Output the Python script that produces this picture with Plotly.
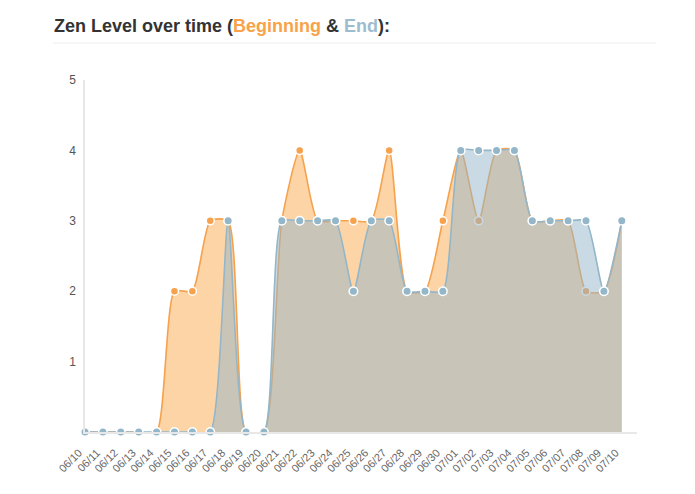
import plotly.graph_objects as go

days = ["06/10", "06/11", "06/12", "06/13", "06/14", "06/15", "06/16", "06/17",
        "06/18", "06/19", "06/20", "06/21", "06/22", "06/23", "06/24", "06/25",
        "06/26", "06/27", "06/28", "06/29", "06/30", "07/01", "07/02", "07/03",
        "07/04", "07/05", "07/06", "07/07", "07/08", "07/09", "07/10"]
beginning = [0, 0, 0, 0, 0, 2, 2, 3, 3, 0, 0, 3, 4, 3, 3, 3,
             3, 4, 2, 2, 3, 4, 3, 4, 4, 3, 3, 3, 2, 2, 3]
end = [0, 0, 0, 0, 0, 0, 0, 0, 3, 0, 0, 3, 3, 3, 3, 2,
       3, 3, 2, 2, 2, 4, 4, 4, 4, 3, 3, 3, 3, 2, 3]

ORANGE = "#f6a14c"
ORANGE_FILL = "#fdd4a6"
BLUE = "#93b6c9"
BLUE_FILL = "rgba(147,182,201,0.5)"
SMOOTH = 0.6

fig = go.Figure()

# beginning: fill, then line + points
fig.add_trace(go.Scatter(
    x=days, y=beginning, mode="lines", fill="tozeroy", fillcolor=ORANGE_FILL,
    line=dict(width=0, shape="spline", smoothing=SMOOTH), hoverinfo="skip",
))
fig.add_trace(go.Scatter(
    x=days, y=beginning, mode="lines+markers", name="Beginning",
    line=dict(color=ORANGE, width=1.6, shape="spline", smoothing=SMOOTH),
    marker=dict(size=8, color=ORANGE, line=dict(color="white", width=1.5)),
    cliponaxis=False,
))

# end: semi transparent fill over the orange, then line + points
fig.add_trace(go.Scatter(
    x=days, y=end, mode="lines", fill="tozeroy", fillcolor=BLUE_FILL,
    line=dict(width=0, shape="spline", smoothing=SMOOTH), hoverinfo="skip",
))
fig.add_trace(go.Scatter(
    x=days, y=end, mode="lines+markers", name="End",
    line=dict(color=BLUE, width=1.6, shape="spline", smoothing=SMOOTH),
    marker=dict(size=8.5, color=BLUE, line=dict(color="white", width=1.5)),
    cliponaxis=False,
))

title = ("<b>Zen Level over time (<span style='color:#f8a24a'>Beginning</span>"
         " &amp; <span style='color:#9dbdcf'>End</span>):</b>")

# the page body adds 8px, so the margins are 8px smaller than on screen
fig.update_layout(
    width=687, height=486,
    margin=dict(l=77, r=58, t=72, b=62),
    plot_bgcolor="white", paper_bgcolor="white",
    showlegend=False,
    font=dict(family="Liberation Sans, Arial, sans-serif", color="#555"),
    xaxis=dict(
        type="category", range=[0, 30.85], showgrid=False, zeroline=False,
        showline=True, linecolor="#e8e8e8", linewidth=2, automargin=False,
        tickangle=-45, tickfont=dict(size=11, color="#666"), ticks="",
        ticklabelstandoff=8, ticklabelshift=-6,
    ),
    yaxis=dict(
        range=[0, 5], tickvals=[1, 2, 3, 4, 5], showgrid=False, zeroline=False,
        showline=True, linecolor="#e8e8e8", linewidth=1.5, automargin=False,
        tickfont=dict(size=12, color="#555"), ticks="", ticklabelstandoff=5,
    ),
    annotations=[dict(text=title, xref="paper", yref="paper",
                      x=(52 - 85) / 552, y=1 + (80 - 26) / 352,
                      xanchor="left", yanchor="middle", showarrow=False,
                      font=dict(size=18, color="#333"))],
    shapes=[dict(type="line", xref="paper", yref="paper",
                 x0=(53 - 85) / 552, x1=(656 - 85) / 552,
                 y0=1 + (80 - 43) / 352, y1=1 + (80 - 43) / 352,
                 line=dict(color="#eeeeee", width=1))],
)

fig.write_html("out.html")
